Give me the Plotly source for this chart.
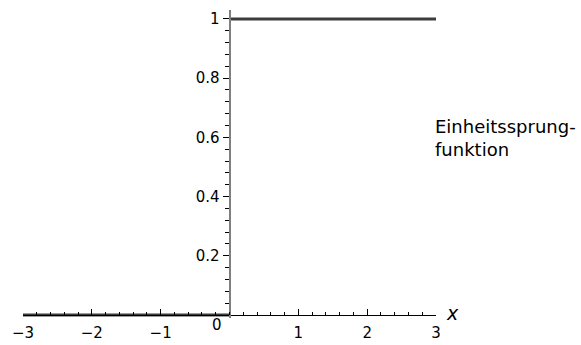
import plotly.graph_objects as go

# data
step_x = [-3, 0, None, 0, 3]
step_y = [0, 0, None, 1, 1]
x_ticks = [-3, -2, -1, 1, 2, 3]
x_tick_labels = ["\u22123", "\u22122", "\u22121", "1", "2", "3"]
y_ticks = [0.2, 0.4, 0.6, 0.8, 1.0]
y_tick_labels = ["0.2", "0.4", "0.6", "0.8", "1"]
label_text = "Einheitssprung-<br>funktion"

FONT = "DejaVu Sans"
y_lo, y_hi = -0.01, 1.03

fig = go.Figure()
fig.add_trace(go.Scatter(
    x=step_x, y=step_y, mode="lines",
    line=dict(color="#3c3c3c", width=3),
    connectgaps=False, hoverinfo="skip", showlegend=False,
))

fig.update_layout(
    width=581, height=345,
    margin=dict(l=23, r=145, t=10, b=27, autoexpand=False),
    paper_bgcolor="white", plot_bgcolor="white",
    font=dict(family=FONT, size=15, color="black"),
    showlegend=False,
    xaxis=dict(
        range=[-3, 3], showgrid=False, zeroline=False, automargin=False,
        showline=True, linecolor="black", linewidth=1,
        anchor="free", position=(0 - y_lo) / (y_hi - y_lo),
        tickmode="array", tickvals=x_ticks, ticktext=x_tick_labels,
        ticks="inside", ticklen=6, tickcolor="black", tickwidth=1,
        ticklabelstandoff=4,
        minor=dict(dtick=0.2, tick0=0, ticks="inside", ticklen=3,
                   tickcolor="black", showgrid=False),
        tickfont=dict(family=FONT, size=15, color="black"),
        fixedrange=True,
    ),
    yaxis=dict(
        range=[y_lo, y_hi], showgrid=False, zeroline=False, automargin=False,
        showline=True, linecolor="#808080", linewidth=2,
        anchor="free", position=0.5, side="left",
        tickmode="array", tickvals=y_ticks, ticktext=y_tick_labels,
        ticks="outside", ticklen=6, tickcolor="black", tickwidth=1,
        minor=dict(dtick=0.04, tick0=0, ticks="outside", ticklen=4,
                   tickcolor="black", showgrid=False),
        tickfont=dict(family=FONT, size=15, color="black"),
        fixedrange=True,
    ),
)

fig.add_annotation(x=0, y=0, xref="x", yref="y", text="0", showarrow=False,
                   xshift=-13, yshift=-10, font=dict(family=FONT, size=15, color="black"))
fig.add_annotation(x=3, y=0, xref="x", yref="y", text="<i>x</i>", showarrow=False,
                   xshift=16, yshift=2, font=dict(family=FONT, size=19, color="black"))
fig.add_annotation(x=(433 - 23) / 413, y=0.598, xref="paper", yref="y",
                   text=label_text, showarrow=False, xanchor="left", yanchor="middle",
                   align="left", font=dict(family=FONT, size=18, color="black"))

fig.write_html("out.html", config={"displayModeBar": False},
               post_script="document.body.style.margin='0px';")
